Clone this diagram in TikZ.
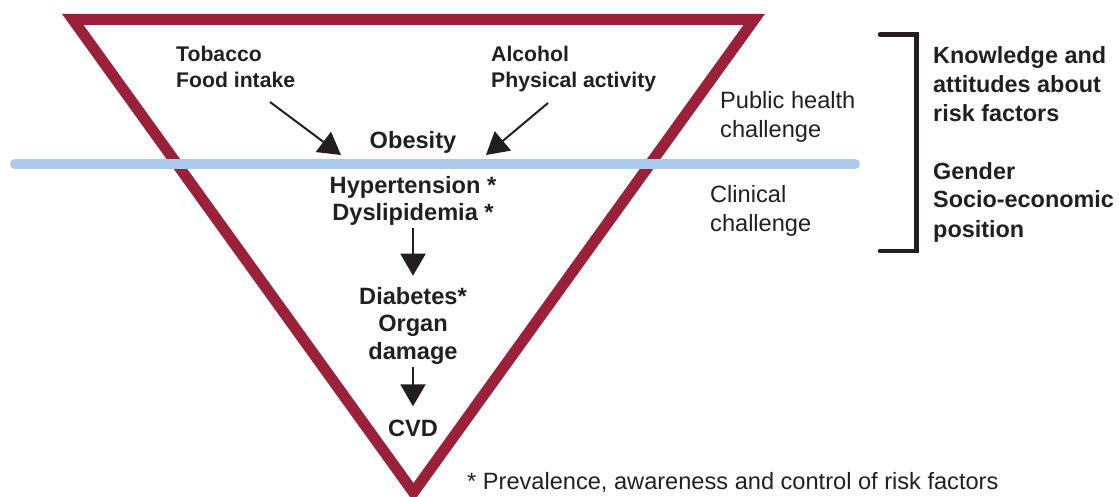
\documentclass[tikz,border=0pt]{standalone}
\usepackage{fontspec}
\setmainfont{Liberation Sans}
\usetikzlibrary{arrows.meta}
\definecolor{tri}{RGB}{155,32,58}
\definecolor{sky}{RGB}{170,204,234}
\definecolor{ink}{RGB}{35,31,32}
\tikzset{
  top/.style={inner sep=0pt, text=ink, align=left, font=\bfseries\fontsize{21.2}{26}\selectfont},
  lbl/.style={inner sep=0pt, text=ink, align=center, font=\bfseries\fontsize{23.6}{27.5}\selectfont},
  plain/.style={inner sep=0pt, text=ink, align=left, font=\fontsize{23.6}{29}\selectfont},
  side/.style={inner sep=0pt, text=ink, align=left, font=\bfseries\fontsize{23.4}{29}\selectfont},
  arr/.style={draw=ink, line width=2pt, -{Triangle[length=22pt,width=25pt]}},
}
\begin{document}
\begin{tikzpicture}[x=1pt,y=-1pt]
\useasboundingbox (0,0) rectangle (1119,497);
% triangle
\draw[tri, line width=11pt, line join=miter, miter limit=10] (72.8,19.5) -- (754.2,19.5) -- (413.5,492.4) -- cycle;
% blue line
\draw[sky, line width=10pt, line cap=round] (15,164) -- (855,164);
% bracket
\draw[ink, line width=4.5pt, line cap=round, line join=miter] (880,34.7) -- (916.7,34.7) -- (916.7,251) -- (880,251);
% texts (base = baseline of the last line)
\node[top, anchor=base west] (tob) at (176,87.7) {Tobacco\\Food intake};
\node[top, anchor=base west] (alc) at (491,87.7) {Alcohol\\Physical activity};
\node[lbl, anchor=base] (obe) at (413,148.5) {Obesity};
\node[lbl, anchor=base] (hyp) at (413,221) {Hypertension *\\Dyslipidemia *};
\node[lbl, anchor=base] (dia) at (413,359) {Diabetes*\\Organ\\damage};
\node[lbl, anchor=base] (cvd) at (413,436) {CVD};
\node[plain, anchor=base west] (pub) at (720,137.5) {Public health\\challenge};
\node[plain, anchor=base west] (cli) at (710,231.5) {Clinical\\challenge};
\node[side, anchor=base west] (kno) at (933,122) {Knowledge and\\attitudes about\\risk factors};
\node[side, anchor=base west] (gen) at (933,237) {Gender\\Socio-economic\\position};
\node[plain, anchor=base west] (foot) at (467,489) {* Prevalence, awareness and control of risk factors};
% arrows
\draw[arr] ([xshift=94pt,yshift=-14.3pt]tob.base west) -- ([xshift=-72pt,yshift=-6.5pt]obe.base);
\draw[arr] ([xshift=57pt,yshift=-15.3pt]alc.base west) -- ([xshift=73pt,yshift=-6.5pt]obe.base);
\draw[arr] ([yshift=-7pt]hyp.base) -- ([yshift=11pt]dia.north);
\draw[arr] ([yshift=-3pt]dia.south) -- ([yshift=13pt]cvd.north);
\end{tikzpicture}
\end{document}
